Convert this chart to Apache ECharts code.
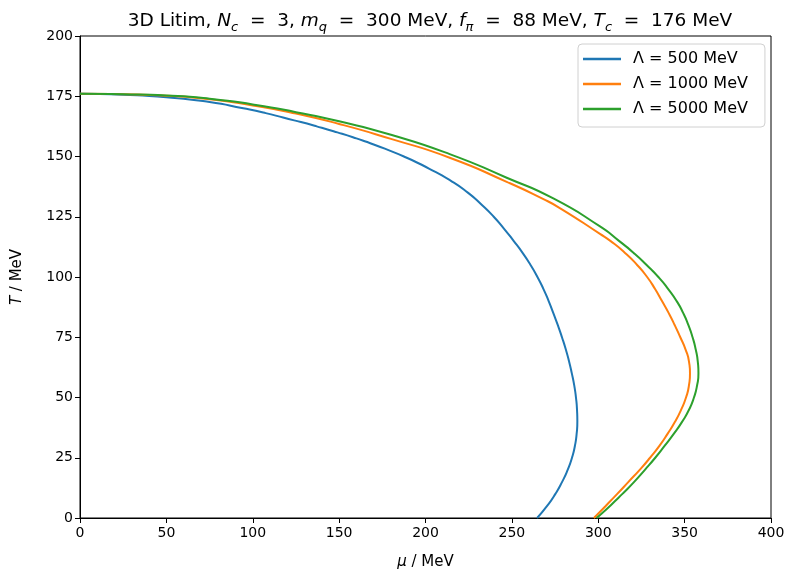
<!DOCTYPE html>
<html lang="en">

<head>
    <meta charset="UTF-8">
    <title>3D Litim phase boundary</title>
    <script src="https://cdn.jsdelivr.net/npm/echarts@6/dist/echarts.min.js"></script>
    <style>
        html, body { margin: 0; padding: 0; background: #fff; }
        #chart { width: 790px; height: 575px; }
    </style>
</head>

<body>
    <div id="chart"></div>
</body>
<script>
    // 相界数据: [mu, T]，单位 MeV
    var seriesNames = ['Λ = 500 MeV', 'Λ = 1000 MeV', 'Λ = 5000 MeV'];
    var xTicks = [0, 50, 100, 150, 200, 250, 300, 350, 400];
    var yTicks = [0, 25, 50, 75, 100, 125, 150, 175, 200];

    var lambda500 = [
        [0, 176], [25, 175.6], [50, 174.6], [75, 172.6], [94.5, 170], [107.5, 168],
        [124, 165], [137, 162.5], [149, 160], [160, 157.5], [170, 155], [187.5, 150],
        [202, 145], [214.5, 140], [224.5, 135], [232.5, 130], [239.5, 125], [245.5, 120],
        [251, 115], [256.2, 110], [260.8, 105], [264.8, 100], [268.3, 95], [271.3, 90],
        [274, 85], [276.6, 80], [279, 75], [281.2, 70], [283.1, 65], [284.7, 60],
        [286.1, 55], [287.1, 50], [287.7, 45], [287.9, 40], [287.5, 35], [286.5, 30],
        [284.8, 25], [282.3, 20], [279.1, 15], [275.2, 10], [270.4, 5], [264.6, 0]
    ];
    var lambda1000 = [
        [0, 176], [25, 175.8], [50, 175.2], [75, 173.8], [100, 171.2], [125, 167.8],
        [150, 163.5], [180, 157.3], [214, 149.5], [247, 139.5], [268, 132.4],
        [278, 128.5], [301, 117.9], [307, 115], [315.5, 110], [322.5, 105], [328.3, 100],
        [332.9, 95], [336.9, 90], [340.8, 85], [344.3, 80], [347.5, 75], [350.5, 70],
        [352.5, 65], [353.1, 60], [352.5, 55], [350.8, 50], [348, 45], [344.5, 40],
        [340.2, 35], [335.5, 30], [330, 25], [324, 20], [317.5, 15], [311, 10],
        [304.3, 5], [297.5, 0]
    ];
    var lambda5000 = [
        [0, 176], [25, 175.8], [50, 175.3], [75, 174], [100, 171.6], [125, 168.4],
        [150, 164.6], [180, 159], [214, 151], [247, 141.2], [274, 132.6],
        [301, 121], [312, 115], [320.5, 110], [328, 105], [334.8, 100], [340.5, 95],
        [345.4, 90], [349.2, 85], [352.2, 80], [354.6, 75], [356.4, 70], [357.6, 65],
        [358, 60], [357.2, 55], [355.4, 50], [352.6, 45], [348.6, 40], [343.8, 35],
        [338.5, 30], [333, 25], [327, 20], [320.8, 15], [314, 10], [306.8, 5],
        [299, 0]
    ];

    var colors = ['#1f77b4', '#ff7f0e', '#2ca02c'];
    var font = 'DejaVu Sans';

    var chart = echarts.init(document.getElementById('chart'));

    function makeLine(name, data, color) {
        return {
            name: name,
            type: 'line',
            data: data,
            smooth: 0.6,
            symbol: 'none',
            lineStyle: { color: color, width: 2 },
            itemStyle: { color: color },
            animation: false
        };
    }

    var option = {
        backgroundColor: '#fff',
        title: {
            text: '{n|3D Litim, }{i|N}{s|c}{n|  =  3, }{i|m}{s|q}{n|  =  300 MeV, }{i|f}{s|π}{n|  =  88 MeV, }{i|T}{s|c}{n|  =  176 MeV}',
            left: 425,
            top: 4,
            textAlign: 'center',
            textStyle: {
                fontWeight: 'normal',
                rich: {
                    n: { fontFamily: font, fontSize: 18.5, fontWeight: 'normal', color: '#000', lineHeight: 25, verticalAlign: 'middle' },
                    i: { fontFamily: font, fontSize: 18.5, fontWeight: 'normal', color: '#000', fontStyle: 'italic', lineHeight: 25, verticalAlign: 'middle' },
                    s: { fontFamily: font, fontSize: 13, fontWeight: 'normal', color: '#000', fontStyle: 'italic', lineHeight: 13, verticalAlign: 'bottom' }
                }
            }
        },
        legend: {
            data: seriesNames.map(function (n) { return { name: n, icon: 'rect' }; }),
            orient: 'vertical',
            left: 578,
            top: 44,
            padding: [6, 17, 9, 5],
            itemGap: 7,
            itemWidth: 38,
            itemHeight: 2.5,
            backgroundColor: '#fff',
            borderColor: '#d0d0d0',
            borderWidth: 1,
            borderRadius: 4,
            textStyle: { fontFamily: font, fontSize: 16, color: '#000', lineHeight: 18, padding: [0, 0, 0, 7] }
        },
        grid: {
            left: 80,
            right: 19,
            top: 36,
            bottom: 54,
            show: true,
            borderColor: '#000',
            borderWidth: 1
        },
        xAxis: {
            type: 'value',
            min: xTicks[0],
            max: xTicks[xTicks.length - 1],
            interval: 50,
            name: '{i|μ}{n| / MeV}',
            nameLocation: 'middle',
            nameGap: 37,
            nameTextStyle: {
                rich: {
                    i: { fontFamily: font, fontSize: 15, fontStyle: 'italic', color: '#000' },
                    n: { fontFamily: font, fontSize: 15, color: '#000' }
                }
            },
            axisLine: { lineStyle: { color: '#000', width: 1 } },
            axisTick: { lineStyle: { color: '#000' }, length: 5 },
            axisLabel: { fontFamily: font, fontSize: 14, color: '#000', margin: 8 },
            splitLine: { show: false }
        },
        yAxis: {
            type: 'value',
            min: yTicks[0],
            max: yTicks[yTicks.length - 1],
            interval: 25,
            name: '{i|T}{n| / MeV}',
            nameLocation: 'middle',
            nameRotate: 90,
            nameGap: 55,
            nameTextStyle: {
                rich: {
                    i: { fontFamily: font, fontSize: 15, fontStyle: 'italic', color: '#000' },
                    n: { fontFamily: font, fontSize: 15, color: '#000' }
                }
            },
            axisLine: { lineStyle: { color: '#000', width: 1 } },
            axisTick: { lineStyle: { color: '#000' }, length: 5 },
            axisLabel: { fontFamily: font, fontSize: 14, color: '#000', margin: 7 },
            splitLine: { show: false }
        },
        series: [
            makeLine(seriesNames[0], lambda500, colors[0]),
            makeLine(seriesNames[1], lambda1000, colors[1]),
            makeLine(seriesNames[2], lambda5000, colors[2])
        ]
    };
    chart.setOption(option);
</script>

</html>
